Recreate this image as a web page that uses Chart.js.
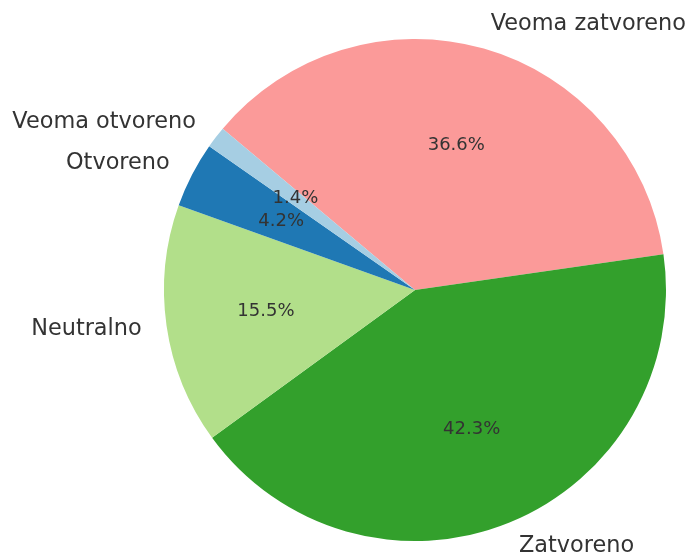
<!DOCTYPE html>
<html>
<head>
<meta charset="utf-8">
<script src="https://cdn.jsdelivr.net/npm/chart.js@4"></script>
<style>
  html, body { margin: 0; padding: 0; background: #fff; }
  #wrap { width: 691px; height: 554px; }
</style>
</head>
<body>
<div id="wrap"><canvas id="myChart" width="691" height="554"></canvas></div>
<script>
// drawn clockwise from the upper-left edge
let labels = ["Veoma zatvoreno", "Zatvoreno", "Neutralno", "Otvoreno", "Veoma otvoreno"];
let values = [26, 30, 11, 3, 1];
let colors = ["#fb9a99", "#33a02c", "#b2df8a", "#1f78b4", "#a6cee3"];

let total = values.reduce((a, b) => a + b, 0);

const pieText = {
  id: "pieText",
  afterDatasetsDraw(chart) {
    const c = chart.ctx;
    const arcs = chart.getDatasetMeta(0).data;
    c.save();
    c.fillStyle = "#333333";
    c.textBaseline = "middle";
    arcs.forEach((arc, i) => {
      const mid = (arc.startAngle + arc.endAngle) / 2;
      const r = arc.outerRadius;
      const cos = Math.cos(mid);
      const sin = Math.sin(mid);
      // category label outside
      c.font = "22.4px 'DejaVu Sans'";
      c.textAlign = cos >= 0 ? "left" : "right";
      c.fillText(labels[i], arc.x + 1.1 * r * cos, arc.y + 1.1 * r * sin);
      // percentage inside
      c.font = "18px 'DejaVu Sans'";
      c.textAlign = "center";
      let pct = ((values[i] / total) * 100).toFixed(1) + "%";
      c.fillText(pct, arc.x + 0.6 * r * cos, arc.y + 0.6 * r * sin);
    });
    c.restore();
  },
};

var ctx = document.getElementById("myChart");
var pieChart = new Chart(ctx, {
  type: "pie",
  data: {
    labels: labels,
    datasets: [
      {
        data: values,
        backgroundColor: colors,
        borderWidth: 0,
      },
    ],
  },
  options: {
    responsive: false,
    animation: false,
    rotation: -50,
    layout: {
      padding: { left: 164, right: 25, top: 39, bottom: 13 },
    },
    plugins: {
      legend: { display: false },
      tooltip: { enabled: false },
    },
  },
  plugins: [pieText],
});
</script>
</body>
</html>
